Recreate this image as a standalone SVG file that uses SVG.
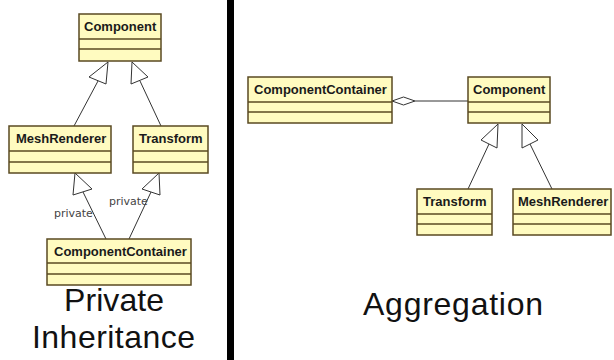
<svg xmlns="http://www.w3.org/2000/svg" width="614" height="360" viewBox="0 0 614 360">
<defs>
<style>
.box{fill:#fffbc0;stroke:#5a4a22;stroke-width:1.5}
.div{stroke:#5a4a22;stroke-width:1.5}
.name{font-family:"Liberation Sans",Arial,sans-serif;font-weight:bold;font-size:13px;fill:#1a1a1a}
.edge{stroke:#333;stroke-width:1;fill:none}
.tri{fill:#fff;stroke:#333;stroke-width:1}
.lbl{font-family:"DejaVu Sans",sans-serif;font-size:11px;fill:#444}
.big{font-family:"Liberation Sans",Arial,sans-serif;font-size:32px;fill:#111}
</style>
</defs>
<rect width="614" height="360" fill="#fff"/>
<rect x="227" y="0" width="7" height="360" fill="#000"/>

<g id="connectors">
  <line class="edge" x1="74" y1="126" x2="98" y2="81"/>
  <polygon class="tri" points="108,62 89,77 106,84"/>
  <line class="edge" x1="161" y1="126" x2="140" y2="81"/>
  <polygon class="tri" points="132,62 131,84 148,77"/>
  <line class="edge" x1="106" y1="239" x2="83" y2="192"/>
  <polygon class="tri" points="75,173 73,195 92,189"/>
  <line class="edge" x1="129" y1="239" x2="151" y2="192"/>
  <polygon class="tri" points="159,173 142,189 160,195"/>
  <text class="lbl" x="54" y="217">private</text>
  <text class="lbl" x="109" y="205">private</text>
  <line class="edge" x1="415" y1="101" x2="468" y2="101"/>
  <polygon class="tri" points="392,101 403.5,97 415,101 403.5,105"/>
  <line class="edge" x1="468" y1="189" x2="489" y2="144"/>
  <polygon class="tri" points="498,124 481,140 497,148"/>
  <line class="edge" x1="552" y1="189" x2="530" y2="144"/>
  <polygon class="tri" points="522,124 522,148 538,140"/>
</g>

<g id="component-left">
  <rect class="box" x="79" y="14" width="82" height="47"/>
  <line class="div" x1="79" y1="39" x2="161" y2="39"/>
  <line class="div" x1="79" y1="49" x2="161" y2="49"/>
  <text class="name" x="84" y="31">Component</text>
</g>
<g id="meshrenderer-left">
  <rect class="box" x="9" y="126" width="102" height="47"/>
  <line class="div" x1="9" y1="151" x2="111" y2="151"/>
  <line class="div" x1="9" y1="162" x2="111" y2="162"/>
  <text class="name" x="16" y="143">MeshRenderer</text>
</g>
<g id="transform-left">
  <rect class="box" x="133" y="126" width="75" height="47"/>
  <line class="div" x1="133" y1="151" x2="208" y2="151"/>
  <line class="div" x1="133" y1="162" x2="208" y2="162"/>
  <text class="name" x="139" y="143">Transform</text>
</g>
<g id="componentcontainer-left">
  <rect class="box" x="47" y="239" width="144" height="46"/>
  <line class="div" x1="47" y1="263" x2="191" y2="263"/>
  <line class="div" x1="47" y1="274" x2="191" y2="274"/>
  <text class="name" x="54" y="256">ComponentContainer</text>
</g>

<g id="componentcontainer-right">
  <rect class="box" x="248" y="77" width="144" height="46"/>
  <line class="div" x1="248" y1="102" x2="392" y2="102"/>
  <line class="div" x1="248" y1="112" x2="392" y2="112"/>
  <text class="name" x="254" y="94">ComponentContainer</text>
</g>
<g id="component-right">
  <rect class="box" x="468" y="77" width="82" height="46"/>
  <line class="div" x1="468" y1="102" x2="550" y2="102"/>
  <line class="div" x1="468" y1="112" x2="550" y2="112"/>
  <text class="name" x="473" y="94">Component</text>
</g>
<g id="transform-right">
  <rect class="box" x="417" y="189" width="75" height="46"/>
  <line class="div" x1="417" y1="214" x2="492" y2="214"/>
  <line class="div" x1="417" y1="224" x2="492" y2="224"/>
  <text class="name" x="423" y="206">Transform</text>
</g>
<g id="meshrenderer-right">
  <rect class="box" x="513" y="189" width="98" height="46"/>
  <line class="div" x1="513" y1="214" x2="611" y2="214"/>
  <line class="div" x1="513" y1="224" x2="611" y2="224"/>
  <text class="name" x="518" y="206">MeshRenderer</text>
</g>

<text class="big" x="64" y="311" textLength="100">Private</text>
<text class="big" x="32" y="348" textLength="163">Inheritance</text>
<text class="big" x="363" y="315" textLength="180">Aggregation</text>
</svg>
